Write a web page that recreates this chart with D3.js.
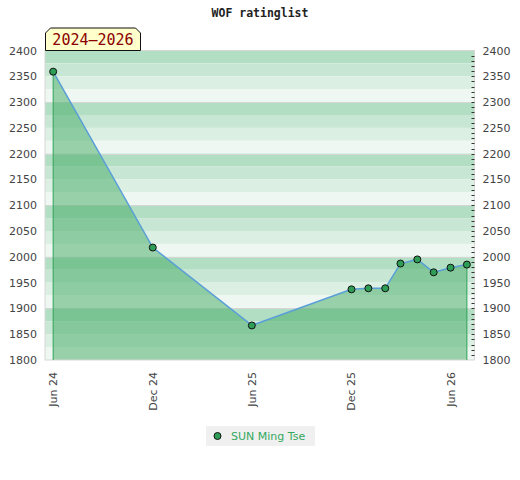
<!DOCTYPE html>
<html>
<head>
<meta charset="utf-8">
<script src="https://cdn.jsdelivr.net/npm/d3@7"></script>
<style>
  body { margin: 0; background: #fff; }
  svg { display: block; }
</style>
</head>
<body>
<div id="chart"></div>
<script>
// rating list dates and ratings
const ratingDates = ["2024-06-01", "2024-12-01", "2025-06-01", "2025-12-01", "2026-01-01",
                     "2026-02-01", "2026-03-01", "2026-04-01", "2026-05-01", "2026-06-01", "2026-07-01"];
const ratings = [2359, 2018, 1867, 1937, 1939, 1939, 1987, 1995, 1970, 1979, 1985];
const xTickDates = ["2024-06-01", "2024-12-01", "2025-06-01", "2025-12-01", "2026-06-01"];
const yTicks = [1800, 1850, 1900, 1950, 2000, 2050, 2100, 2150, 2200, 2250, 2300, 2350, 2400];
const playerName = "SUN Ming Tse";
const periodLabel = "2024–2026";

const width = 520, height = 480;
const plot = {left: 45, right: 474.5, top: 50.5, bottom: 360};
const parse = d3.utcParse("%Y-%m-%d");
const points = ratingDates.map((d, i) => ({date: parse(d), value: ratings[i]}));

const svg = d3.select("#chart").append("svg")
              .attr("width", width)
              .attr("height", height);

const x = d3.scaleUtc()
            .domain([parse("2024-05-17"), parse("2026-07-15")])
            .range([plot.left, plot.right]);
const y = d3.scaleLinear()
            .domain([1800, 2400])
            .range([plot.bottom, plot.top]);

// title
svg.append("text")
   .attr("x", 260).attr("y", 17)
   .attr("text-anchor", "middle")
   .style("font", "bold 11.5px 'DejaVu Sans Mono', monospace")
   .attr("fill", "#222")
   .text("WOF ratinglist");

// background stripes, 4 per 100 points
const stripeColors = ["#b2dec3", "#c8e6d4", "#dcefe3", "#eef7f1"];
const stripes = d3.range(2400, 1800, -25);
svg.append("g")
   .selectAll("rect")
   .data(stripes)
   .join("rect")
   .attr("x", plot.left)
   .attr("y", d => y(d))
   .attr("width", plot.right - plot.left)
   .attr("height", d => y(d - 25) - y(d))
   .attr("fill", (d, i) => stripeColors[i % 4]);

// gridlines every 100
svg.append("g")
   .selectAll("line")
   .data(d3.range(1900, 2400, 100))
   .join("line")
   .attr("x1", plot.left).attr("x2", plot.right)
   .attr("y1", d => Math.round(y(d)) + 0.5).attr("y2", d => Math.round(y(d)) + 0.5)
   .attr("stroke", "#d6d6d6");

// area under rating line
svg.append("path")
   .datum(points)
   .attr("fill", "#47ad67")
   .attr("fill-opacity", 0.52)
   .attr("d", d3.area()
       .x(d => x(d.date))
       .y0(plot.bottom)
       .y1(d => y(d.value)));

// plot frame
svg.append("rect")
   .attr("x", plot.left).attr("y", plot.top)
   .attr("width", plot.right - plot.left)
   .attr("height", plot.bottom - plot.top)
   .attr("fill", "none")
   .attr("stroke", "#d8d8d8");

// vertical edges of the area
const ends = [points[0], points[points.length - 1]];
svg.append("g")
   .selectAll("line")
   .data(ends)
   .join("line")
   .attr("x1", d => x(d.date)).attr("x2", d => x(d.date))
   .attr("y1", d => y(d.value)).attr("y2", plot.bottom)
   .attr("stroke", "#2fa35a")
   .attr("stroke-width", 1);

// rating line
svg.append("path")
   .datum(points)
   .attr("fill", "none")
   .attr("stroke", "#5a9fd8")
   .attr("stroke-width", 1.5)
   .attr("d", d3.line()
       .x(d => x(d.date))
       .y(d => y(d.value)));

svg.append("g")
   .selectAll("circle")
   .data(points)
   .join("circle")
   .attr("cx", d => x(d.date))
   .attr("cy", d => y(d.value))
   .attr("r", 3.5)
   .attr("fill", "#2e9e57")
   .attr("stroke", "#111")
   .attr("stroke-width", 1);

// left axis labels
const labelFont = "11px 'DejaVu Sans', sans-serif";
svg.append("g")
   .selectAll("text")
   .data(yTicks)
   .join("text")
   .attr("x", 37)
   .attr("y", d => y(d) + 4)
   .attr("text-anchor", "end")
   .attr("fill", "#444")
   .style("font", labelFont)
   .text(d => d);

// right axis with minor ticks every 10
const rightAxis = d3.axisRight(y)
                    .tickValues(yTicks)
                    .tickFormat(d3.format("d"))
                    .tickSize(0)
                    .tickPadding(8);
const ra = svg.append("g")
              .attr("transform", `translate(${plot.right},0)`)
              .call(rightAxis);
ra.select(".domain").remove();
ra.selectAll("text").attr("fill", "#444").style("font", labelFont);
ra.append("g")
  .selectAll("line")
  .data(d3.range(1810, 2400, 10))
  .join("line")
  .attr("x1", -3).attr("x2", 0)
  .attr("y1", d => Math.round(y(d)) + 0.5).attr("y2", d => Math.round(y(d)) + 0.5)
  .attr("stroke", "#333");

// bottom axis labels, rotated
const fmt = d3.utcFormat("%b %y");
svg.append("g")
   .selectAll("text")
   .data(xTickDates.map(parse))
   .join("text")
   .attr("transform", d => `translate(${x(d) + 4},372) rotate(-90)`)
   .attr("text-anchor", "end")
   .attr("fill", "#444")
   .style("font", labelFont)
   .text(d => fmt(d));

// period tag
const tag = svg.append("g");
tag.append("path")
   .attr("d", "M45.5,50.5 V33 L50.5,28 H135.5 L140.5,33 V50.5 Z")
   .attr("fill", "#ffffcc")
   .attr("stroke", "#111")
   .attr("stroke-width", 1);
tag.append("text")
   .attr("x", 93).attr("y", 45)
   .attr("text-anchor", "middle")
   .attr("fill", "#8b0000")
   .style("font", "15px 'DejaVu Sans Mono', monospace")
   .text(periodLabel);

// legend
const legend = svg.append("g").attr("transform", "translate(206,426)");
legend.append("rect")
      .attr("width", 109).attr("height", 20)
      .attr("fill", "#f0f0f0");
legend.append("circle")
      .attr("cx", 11.5).attr("cy", 10)
      .attr("r", 3.5)
      .attr("fill", "#2e9e57")
      .attr("stroke", "#111");
legend.append("text")
      .attr("x", 25).attr("y", 14)
      .attr("fill", "#35a85e")
      .style("font", labelFont)
      .text(playerName);
</script>
</body>
</html>
